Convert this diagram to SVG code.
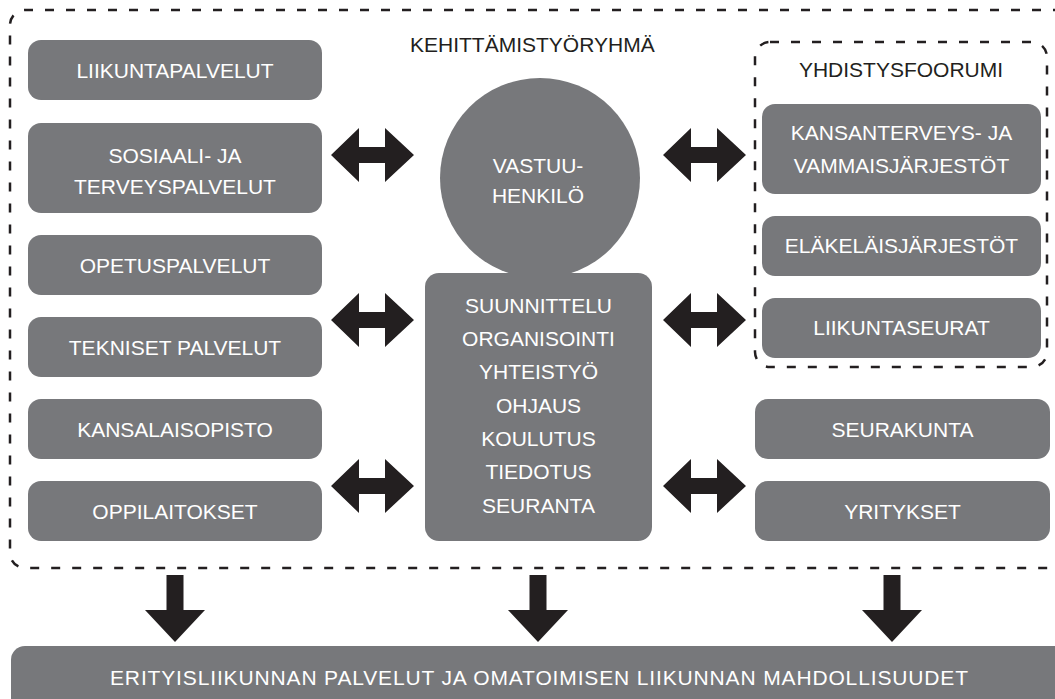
<svg xmlns="http://www.w3.org/2000/svg" xmlns:xlink="http://www.w3.org/1999/xlink" width="1055" height="699" viewBox="0 0 1055 699">
<defs>
<style>
.box{fill:#77787b;}
.t{font-family:"Liberation Sans",Arial,sans-serif;font-size:21px;fill:#ffffff;text-anchor:middle;}
.lbl{font-family:"Liberation Sans",Arial,sans-serif;font-size:21px;fill:#231f20;}
.dash{fill:none;stroke:#231f20;stroke-width:2.5;stroke-dasharray:9 12;}
.arr{fill:#231f20;}
</style>
<path id="harrow" d="M0,0 L28,-27 L28,-8 L54,-8 L54,-27 L83,0 L54,27 L54,8 L28,8 L28,27 Z"/>
<path id="varrow" d="M-8.5,0 L8.5,0 L8.5,35 L30,35 L0,67 L-30,35 L-8.5,35 Z"/>
</defs>
<rect width="1055" height="699" fill="#ffffff"/>

<g id="kehittamistyoryhma">
<path class="dash" d="M1062,10 L25,10 A15,15 0 0 0 10,25 L10,553 A15,15 0 0 0 25,568 L1062,568"/>
<text class="lbl" x="410" y="52" font-size="22">KEHITTÄMISTYÖRYHMÄ</text>
</g>

<g id="yhdistysfoorumi">
<rect class="dash" x="755" y="42" width="292" height="325" rx="15"/>
<text class="lbl" x="901" y="77" text-anchor="middle">YHDISTYSFOORUMI</text>
</g>

<g id="liikuntapalvelut"><rect class="box" x="28" y="40" width="294" height="60" rx="13"/><text class="t" x="175" y="78">LIIKUNTAPALVELUT</text></g>
<g id="sosiaali"><rect class="box" x="28" y="123" width="294" height="90" rx="13"/><text class="t" x="175" y="163">SOSIAALI- JA</text><text class="t" x="175" y="194">TERVEYSPALVELUT</text></g>
<g id="opetuspalvelut"><rect class="box" x="28" y="235" width="294" height="60" rx="13"/><text class="t" x="175" y="273">OPETUSPALVELUT</text></g>
<g id="tekniset"><rect class="box" x="28" y="317" width="294" height="60" rx="13"/><text class="t" x="175" y="355">TEKNISET PALVELUT</text></g>
<g id="kansalaisopisto"><rect class="box" x="28" y="399" width="294" height="60" rx="13"/><text class="t" x="175" y="437">KANSALAISOPISTO</text></g>
<g id="oppilaitokset"><rect class="box" x="28" y="481" width="294" height="60" rx="13"/><text class="t" x="175" y="519">OPPILAITOKSET</text></g>

<g id="vastuuhenkilo"><circle class="box" cx="540" cy="178" r="100"/><text class="t" x="538" y="173">VASTUU-</text><text class="t" x="538" y="203">HENKILÖ</text></g>
<g id="tehtavat"><rect class="box" x="425" y="273" width="227" height="268" rx="14"/>
<text class="t" x="538.5" y="313">SUUNNITTELU</text>
<text class="t" x="538.5" y="346">ORGANISOINTI</text>
<text class="t" x="538.5" y="379">YHTEISTYÖ</text>
<text class="t" x="538.5" y="413">OHJAUS</text>
<text class="t" x="538.5" y="446">KOULUTUS</text>
<text class="t" x="538.5" y="479">TIEDOTUS</text>
<text class="t" x="538.5" y="513">SEURANTA</text>
</g>

<g id="kansanterveys"><rect class="box" x="762" y="104" width="279" height="90" rx="13"/><text class="t" x="901.5" y="140">KANSANTERVEYS- JA</text><text class="t" x="901.5" y="173">VAMMAISJÄRJESTÖT</text></g>
<g id="elakelaisjarjestot"><rect class="box" x="762" y="216" width="279" height="60" rx="13"/><text class="t" x="901.5" y="253">ELÄKELÄISJÄRJESTÖT</text></g>
<g id="liikuntaseurat"><rect class="box" x="762" y="298" width="279" height="60" rx="13"/><text class="t" x="901.5" y="335">LIIKUNTASEURAT</text></g>
<g id="seurakunta"><rect class="box" x="755" y="399" width="295" height="60" rx="13"/><text class="t" x="902.5" y="437">SEURAKUNTA</text></g>
<g id="yritykset"><rect class="box" x="755" y="481" width="295" height="60" rx="13"/><text class="t" x="902.5" y="519">YRITYKSET</text></g>

<g id="tulos"><rect class="box" x="11" y="646" width="1060" height="80" rx="14"/><text class="t" x="539" y="685" textLength="858" lengthAdjust="spacing">ERITYISLIIKUNNAN PALVELUT JA OMATOIMISEN LIIKUNNAN MAHDOLLISUUDET</text></g>

<g id="connectors" class="arr">
<use xlink:href="#harrow" transform="translate(331,155)"/>
<use xlink:href="#harrow" transform="translate(331,320)"/>
<use xlink:href="#harrow" transform="translate(331,486)"/>
<use xlink:href="#harrow" transform="translate(663,155)"/>
<use xlink:href="#harrow" transform="translate(663,320)"/>
<use xlink:href="#harrow" transform="translate(663,486)"/>
<use xlink:href="#varrow" transform="translate(175,575)"/>
<use xlink:href="#varrow" transform="translate(538,575)"/>
<use xlink:href="#varrow" transform="translate(892,575)"/>
</g>
</svg>
